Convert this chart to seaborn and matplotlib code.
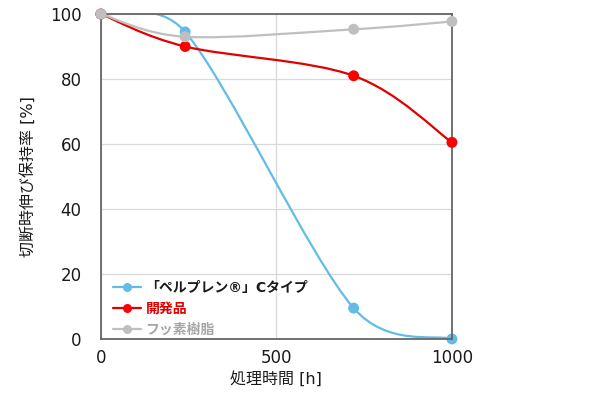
import numpy as np
import pandas as pd
import seaborn as sns
import matplotlib.pyplot as plt
from matplotlib.path import Path
from matplotlib.patches import PathPatch
from matplotlib.lines import Line2D

# data
hours = [0, 240, 720, 1000]
perplen_c = [100, 94.5, 9.5, 0]
developed = [100, 90, 81, 60.5]
fluoro = [100, 93, 95.3, 97.7]

names = ['「ペルプレン®」Cタイプ', '開発品', 'フッ素樹脂']
colors = ['#62BCE6', '#E00000', '#BFBFBF']
marker_colors = ['#62BCE6', '#FF0000', '#BFBFBF']
label_colors = ['#1A1A1A', '#E00000', '#A6A6A6']

sns.set_theme(style='white')
plt.rcParams['font.family'] = ['DejaVu Sans', 'Noto Sans CJK JP']

df = pd.DataFrame({'h': hours * 3,
                   'val': perplen_c + developed + fluoro,
                   'series': sum([[n] * len(hours) for n in names], [])})


def smooth_path(ax, x, y):
    # excel-like smoothed line: cubic bezier with catmull-rom tangents,
    # worked out in screen space, control arms capped at half a segment
    pts = ax.transData.transform(np.column_stack([x, y]))
    p = np.vstack([pts[0], pts, pts[-1]])
    verts = [pts[0]]
    codes = [Path.MOVETO]
    for i in range(1, len(p) - 2):
        seg = np.linalg.norm(p[i + 1] - p[i])
        t1 = p[i + 1] - p[i - 1]
        t2 = p[i + 2] - p[i]
        f1 = min(1 / 6, seg / (2 * max(np.linalg.norm(t1), 1e-9)))
        f2 = min(1 / 6, seg / (2 * max(np.linalg.norm(t2), 1e-9)))
        verts += [p[i] + t1 * f1, p[i + 1] - t2 * f2, p[i + 1]]
        codes += [Path.CURVE4] * 3
    verts = ax.transData.inverted().transform(np.array(verts))
    return Path(verts, codes)


fig, ax = plt.subplots(figsize=(5.9, 4.05), dpi=100)
fig.subplots_adjust(left=0.171, right=0.766, top=0.9654, bottom=0.163)
ax.set_xlim(0, 1000)
ax.set_ylim(0, 100)

for i, name in enumerate(names):
    sub = df[df['series'] == name]
    patch = PathPatch(smooth_path(ax, sub['h'].to_numpy(), sub['val'].to_numpy()),
                      facecolor='none', edgecolor=colors[i], lw=1.6, zorder=2 + i)
    ax.add_patch(patch)
    sns.scatterplot(x=sub['h'], y=sub['val'], color=marker_colors[i], s=62,
                    edgecolor='none', zorder=2.5 + i, clip_on=False, ax=ax)

ax.set_xticks([0, 500, 1000])
ax.set_yticks([0, 20, 40, 60, 80, 100])
ax.grid(True, color='#D9D9D9', lw=0.9)
ax.set_axisbelow(True)
ax.tick_params(length=0, labelsize=12, colors='#1A1A1A')
ax.tick_params(axis='y', pad=14)
ax.tick_params(axis='x', pad=7)
for s in ax.spines.values():
    s.set_color('#666666')
    s.set_linewidth(1.3)

ax.set_xlabel('処理時間 [h]', fontsize=11.5, color='#1A1A1A', labelpad=3)
ax.set_ylabel('切断時伸び保持率 [%]', fontsize=11.5, color='#1A1A1A', labelpad=10)

handles = [Line2D([0], [0], color=colors[i], lw=1.6, marker='o', markersize=6.5,
                  markerfacecolor=marker_colors[i], markeredgecolor='none')
           for i in range(3)]
leg = ax.legend(handles, names, loc='lower left', bbox_to_anchor=(0.012, -0.02),
                frameon=False, handlelength=2.0, handletextpad=0.3,
                labelspacing=0.5, borderaxespad=0.2,
                prop={'family': ['DejaVu Sans', 'Noto Sans CJK JP'], 'size': 10,
                      'weight': 'bold'})
for t, c in zip(leg.get_texts(), label_colors):
    t.set_color(c)

plt.savefig('out.png', dpi=100)
